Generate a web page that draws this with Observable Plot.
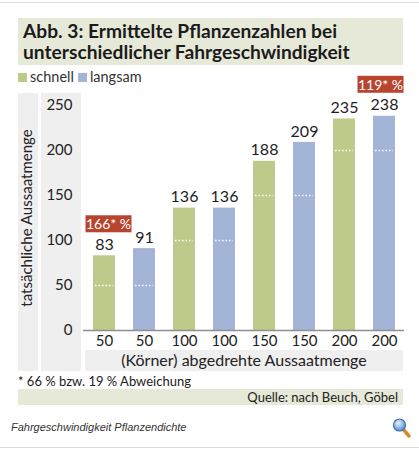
<!DOCTYPE html>
<html>
<head>
<meta charset="utf-8">
<script src="https://cdn.jsdelivr.net/npm/d3@7"></script>
<script src="https://cdn.jsdelivr.net/npm/@observablehq/plot@0.6"></script>
<style>
  html, body { margin: 0; padding: 0; background: #fff; }
  #wrap { position: relative; width: 419px; height: 450px; overflow: hidden; font-family: Lato, "Open Sans", sans-serif; color: #222; }
  .abs { position: absolute; }
  .line { left: 0; width: 419px; height: 1px; background: #dcdcdc; }
  .title { left: 18px; top: 18px; height: 47px; background: #e7e9d8; padding-left: 5px;
           font-weight: bold; font-size: 19.2px; line-height: 21px; padding-top: 2px; box-sizing: border-box; width: 385px; color: #1b1b1b; }
  .legend { left: 18px; top: 68px; font-size: 14.5px; color: #333; display: flex; align-items: center; gap: 4px; }
  .sw { display: inline-block; width: 9px; height: 9px; margin-right: 3px; }
  .gray { background: #efefef; }
  .foot { left: 18px; top: 373px; font-size: 13px; color: #222; }
  .source { left: 18px; top: 389px; width: 385px; height: 16px; background: #e7e9d8; font-size: 13px; line-height: 16px;
            text-align: right; padding-right: 5px; box-sizing: border-box; color: #222; }
  .caption { left: 11px; top: 421px; font-family: "Liberation Sans", Arial, sans-serif; font-style: italic; font-size: 11px; color: #333; }
  #chart { position: absolute; left: 0; top: 0; }
</style>
</head>
<body>
<div id="wrap">
  <div class="abs line" style="top:2px"></div>
  <div class="abs line" style="top:447px"></div>
  <div class="abs title">Abb. 3: Ermittelte Pflanzenzahlen bei<br>unterschiedlicher Fahrgeschwindigkeit</div>
  <div class="abs legend" id="legend"></div>
  <div class="abs gray" style="left:18px;top:93px;width:20px;height:278px"></div>
  <div class="abs gray" style="left:41px;top:93px;width:40px;height:278px"></div>
  <div class="abs gray" style="left:85px;top:350px;width:318px;height:21px"></div>
  <div class="abs foot">* 66 % bzw. 19 % Abweichung</div>
  <div class="abs source">Quelle: nach Beuch, Göbel</div>
  <div class="abs caption">Fahrgeschwindigkeit Pflanzendichte</div>
  <svg class="abs" style="left:392px;top:417px" width="20" height="22" viewBox="0 0 20 22">
    <defs><radialGradient id="lg" cx="0.4" cy="0.35" r="0.7"><stop offset="0" stop-color="#e8f2ff"/><stop offset="1" stop-color="#4d86c9"/></radialGradient></defs>
    <line x1="11" y1="12" x2="17" y2="19" stroke="#d88a2a" stroke-width="3.5" stroke-linecap="round"/>
    <circle cx="7.5" cy="8" r="6" fill="url(#lg)" stroke="#3c6fae" stroke-width="1.2"/>
  </svg>
  <div id="chart"></div>
</div>
<script>
// ---- data ----
const aussaat = [50, 50, 100, 100, 150, 150, 200, 200];
const speeds = ["schnell", "langsam", "schnell", "langsam", "schnell", "langsam", "schnell", "langsam"];
const values = [83, 91, 136, 136, 188, 209, 235, 238];
const seriesNames = ["schnell", "langsam"];
const seriesColors = ["#bccb8a", "#a3b4d7"];
const yTicks = [0, 50, 100, 150, 200, 250];
const noteBars = [0, 7];
const noteLabels = ["166* %", "119* %"];
const yLabel = "tatsächliche Aussaatmenge";
const xLabel = "(Körner) abgedrehte Aussaatmenge";

const rows = aussaat.map((a, i) => ({key: `${a}-${speeds[i]}`, aussaat: a, speed: speeds[i], value: values[i]}));
const notes = noteBars.map((b, i) => ({...rows[b], label: noteLabels[i]}));

// legend
const legend = document.getElementById("legend");
seriesNames.forEach((s, i) => {
  const item = document.createElement("span");
  item.innerHTML = `<span class="sw" style="background:${seriesColors[i]}"></span>${s}`;
  legend.appendChild(item);
});

const fontFamily = "Lato, 'Open Sans', sans-serif";
const plot = Plot.plot({
  width: 419,
  height: 450,
  marginLeft: 83,
  marginRight: 15,
  marginTop: 105,
  marginBottom: 120,
  style: {background: "transparent", fontFamily, fontSize: "15px", color: "#222", overflow: "visible"},
  x: {domain: rows.map(d => d.key), paddingInner: 0.452, paddingOuter: 0.226, label: null},
  y: {domain: [0, 250], label: null},
  color: {domain: seriesNames, range: seriesColors},
  marks: [
    Plot.barY(rows, {x: "key", y: "value", fill: "speed"}),
    Plot.tickY(rows, {x: "key", y: "aussaat", stroke: "white", strokeWidth: 1.5, strokeDasharray: "1.5,2", inset: 2}),
    Plot.ruleY([0], {stroke: "#8f8f8f", strokeWidth: 1.5}),
    Plot.axisX({tickSize: 0, tickPadding: 5, tickFormat: d => d.split("-")[0], label: null, fontSize: 15}),
    Plot.axisY({ticks: yTicks, tickSize: 0, tickPadding: 11, label: yLabel, labelAnchor: "center", labelOffset: 62, labelArrow: "none", fontSize: 15}),
    Plot.text(rows, {x: "key", y: "value", text: d => String(d.value), dy: -11, fontSize: 16, fill: "#1e1e1e"}),
    Plot.text(notes.slice(0, 1), {x: "key", y: "value", text: "label", dy: -31, dx: 4, fontSize: 14, fill: "white", className: "note"}),
    Plot.text(notes.slice(1), {x: "key", y: "value", text: "label", dy: -31, dx: -4, fontSize: 14, fill: "white", className: "note"}),
    Plot.text([xLabel], {frameAnchor: "bottom", text: d => d, dy: 35, fontSize: 16, fill: "#222"})
  ]
});
document.getElementById("chart").appendChild(plot);

// red boxes behind annotation texts
plot.querySelectorAll(".note text").forEach(t => {
  const b = t.getBBox();
  const r = document.createElementNS("http://www.w3.org/2000/svg", "rect");
  const w = 46, h = 17;
  r.setAttribute("x", b.x + b.width / 2 - w / 2);
  r.setAttribute("y", b.y + b.height / 2 - h / 2);
  r.setAttribute("width", w);
  r.setAttribute("height", h);
  r.setAttribute("fill", "#b8442e");
  if (t.getAttribute("transform")) r.setAttribute("transform", t.getAttribute("transform"));
  t.parentNode.insertBefore(r, t);
});
</script>
</body>
</html>
